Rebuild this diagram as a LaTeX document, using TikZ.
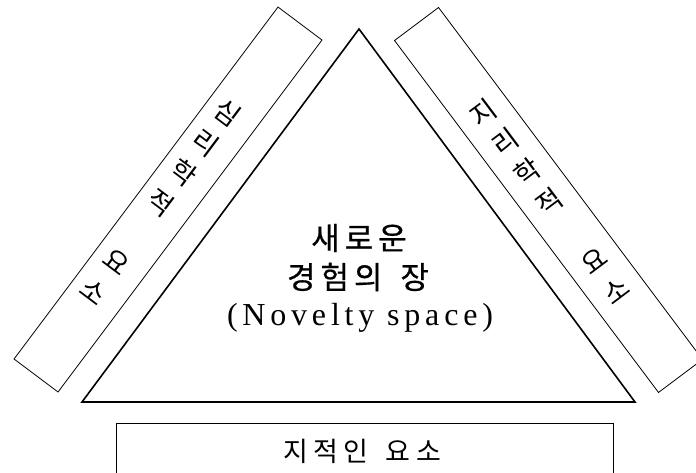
\documentclass[tikz,border=0pt]{standalone}
\usepackage{fontspec}
\setmainfont{Liberation Serif}
\newfontfamily\kr{Noto Sans CJK KR}
\newfontfamily\krspaced{Noto Sans CJK KR}[LetterSpace=20]
\newfontfamily\krcenter{Noto Sans CJK KR}[LetterSpace=16,FakeBold=0.6]
\newfontfamily\latspaced{Liberation Serif}[LetterSpace=15]
\begin{document}
\begin{tikzpicture}[x=1pt,y=-1pt,
  sidebox/.style={draw, line width=0.8pt, inner sep=0pt, minimum width=440pt, minimum height=55pt},
  tri/.style={draw, line width=1.6pt, line join=miter},
  sidechar/.style={inner sep=0pt, font=\kr\fontsize{27}{27}\selectfont},
  centerkr/.style={inner sep=0pt, font=\krcenter\fontsize{31}{31}\selectfont},
  centerlat/.style={inner sep=0pt, font=\latspaced\fontsize{32}{32}\selectfont},
  bottomtext/.style={inner sep=0pt, font=\krspaced\fontsize{27}{27}\selectfont}]
\clip (0,0) rectangle (696,473);
\useasboundingbox (0,0) rectangle (696,473);
% triangle
\coordinate (apex) at (359,29);
\coordinate (bl) at (82,402);
\coordinate (br) at (635,402);
\draw[tri] (apex) -- (br) -- (bl) -- cycle;
% side boxes
\node[sidebox, rotate=53.13] (leftbox) at (168,199.5) {};
\node[sidebox, rotate=-53.13] (rightbox) at (548.5,200) {};
% left vertical text
\foreach \ch/\k in {심/0,리/1,학/2,적/3,요/5,소/6}{
  \pgfmathsetmacro{\t}{-105+37.2*\k}
  \pgfmathsetmacro{\px}{168-3.2-0.6*\t}
  \pgfmathsetmacro{\py}{199.5-2.4+0.8*\t}
  \node[sidechar, rotate=-36.87] (lc\k) at (\px,\py) {\ch};
}
% right vertical text
\foreach \ch/\k in {지/0,리/1,학/2,적/3,요/5,소/6}{
  \pgfmathsetmacro{\t}{-109+37*\k}
  \pgfmathsetmacro{\px}{548.5+0.6*\t}
  \pgfmathsetmacro{\py}{200+0.8*\t}
  \node[sidechar, rotate=36.87] (rc\k) at (\px,\py) {\ch};
}
% centre text
\node[centerkr] (c1) at (359,238) {새로운};
\node[centerkr] (c2) at (358,277) {경험의\hspace{6pt} 장};
\node[centerlat] (c3) at (360,318) {(Novelty space)};
% bottom box
\node[draw, line width=0.8pt, inner sep=0pt, minimum width=497pt, minimum height=56pt] (bottombox) at (364.5,451) {};
\node[bottomtext] (btext) at (362,451) {지적인\hspace{6pt} 요소};
\end{tikzpicture}
\end{document}
